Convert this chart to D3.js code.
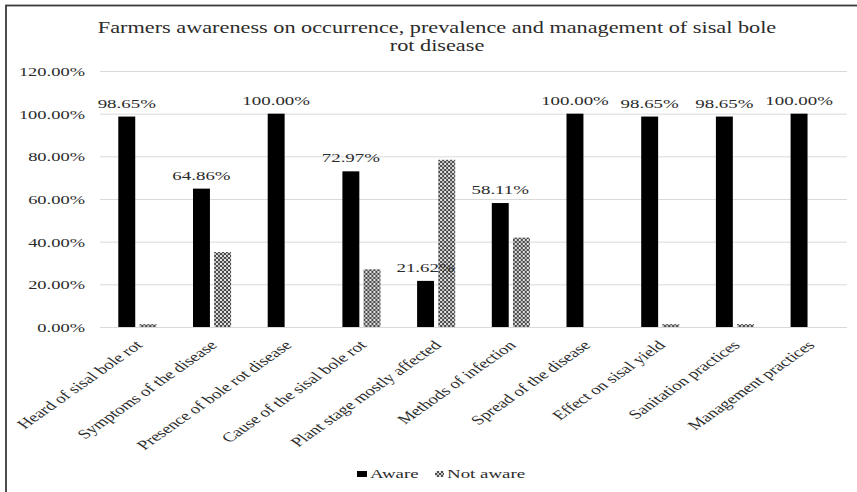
<!DOCTYPE html>
<html>
<head>
<meta charset="utf-8">
<script src="https://cdn.jsdelivr.net/npm/d3@7"></script>
<style>
  body { margin: 0; background: #fff; }
  text { font-family: "Liberation Serif", "Times New Roman", serif; }
</style>
</head>
<body>
<div id="chart"></div>
<script>
"use strict"

// chart data
const categories = [
    "Heard of sisal bole rot",
    "Symptoms of the disease",
    "Presence of bole rot disease",
    "Cause of the sisal bole rot",
    "Plant stage mostly affected",
    "Methods of infection",
    "Spread of the disease",
    "Effect on sisal yield",
    "Sanitation practices",
    "Management practices"
];
const seriesNames = ["Aware", "Not aware"];
const aware = [0.9865, 0.6486, 1.0, 0.7297, 0.2162, 0.5811, 1.0, 0.9865, 0.9865, 1.0];
const notAware = [0.0135, 0.3514, 0, 0.2703, 0.7838, 0.4189, 0, 0.0135, 0.0135, 0];
const yTicks = [0, 0.2, 0.4, 0.6, 0.8, 1.0, 1.2];
const titleLines = [
    "Farmers awareness on occurrence, prevalence and management of sisal bole",
    "rot disease"
];

// the picture is stretched horizontally, so text gets the same stretch
const SX = 1.42;
const figWidth = 857;
const figHeight = 492;
const plotLeft = 100, plotRight = 847, plotTop = 71, plotBottom = 327;
const textColor = "#2b2b2b";

const data = categories.map((c, i) => ({cat: c, values: [aware[i], notAware[i]]}));

let svg = d3.select("#chart").append("svg")
    .attr("width", figWidth)
    .attr("height", figHeight);

// fill pattern for "Not aware"
let defs = svg.append("defs");
let pat = defs.append("pattern")
    .attr("id", "notAwarePat")
    .attr("patternUnits", "userSpaceOnUse")
    .attr("width", 4)
    .attr("height", 4);
pat.append("rect").attr("width", 4).attr("height", 4).attr("fill", "#fff");
pat.append("circle")
    .attr("cx", 2).attr("cy", 2).attr("r", 1.5)
    .attr("fill", "none")
    .attr("stroke", "#2a2a2a")
    .attr("stroke-width", 1);

// outer frame (only left and top edges are inside the picture)
svg.append("rect")
    .attr("x", 6)
    .attr("y", 5.5)
    .attr("width", 900)
    .attr("height", 600)
    .attr("fill", "none")
    .attr("stroke", "#3a3a3a")
    .attr("stroke-width", 1.8);

// Scales
let yScale = d3.scaleLinear()
    .domain([0, 1.2])
    .range([plotBottom, plotTop]);
let xScale = d3.scaleBand()
    .domain(categories)
    .range([plotLeft, plotRight])
    .paddingInner(0.49)
    .paddingOuter(0.245);
let xSub = d3.scaleBand()
    .domain(seriesNames)
    .range([0, xScale.bandwidth()])
    .paddingInner(0.2);
const fills = {"Aware": "#000", "Not aware": "url(#notAwarePat)"};

// Title
svg.selectAll(".title")
    .data(titleLines)
    .enter().append("text")
        .attr("class", "title")
        .attr("text-anchor", "middle")
        .attr("transform", (d, i) => `translate(437, ${32.5 + i * 18}) scale(1.31, 1)`)
        .style("font-size", "17px")
        .attr("fill", textColor)
        .text(d => d);

// Gridlines
let grid = svg.append("g")
    .attr("class", "grid")
    .attr("transform", `translate(${plotLeft}, 0)`)
    .call(d3.axisLeft(yScale)
        .tickValues(yTicks)
        .tickSize(-(plotRight - plotLeft))
        .tickFormat(""));
grid.select(".domain").remove();
grid.selectAll("line").attr("stroke", "#d9d9d9").attr("stroke-width", 1);

// Y axis labels
let yAxis = svg.append("g")
    .attr("class", "y axis")
    .attr("transform", `translate(${plotLeft}, 0)`)
    .call(d3.axisLeft(yScale)
        .tickValues(yTicks)
        .tickSize(0)
        .tickFormat(d3.format(".2%")));
yAxis.select(".domain").remove();
yAxis.selectAll("text")
    .attr("x", -15 / SX)
    .attr("dy", "0.34em")
    .attr("transform", `scale(${SX}, 1)`)
    .attr("fill", textColor)
    .style("font-size", "13px")
    .style("font-family", null);

// Bars
let groups = svg.append("g")
    .attr("class", "bars")
    .selectAll("g")
    .data(data)
    .enter().append("g")
        .attr("transform", d => `translate(${xScale(d.cat)}, 0)`);

groups.selectAll("rect")
    .data(d => d.values.map((v, i) => ({key: seriesNames[i], value: v})))
    .enter().append("rect")
        .attr("x", d => xSub(d.key))
        .attr("y", d => yScale(d.value))
        .attr("width", xSub.bandwidth())
        .attr("height", d => yScale(0) - yScale(d.value))
        .attr("fill", d => fills[d.key]);

// Data labels on the "Aware" series only
groups.append("text")
    .attr("text-anchor", "middle")
    .attr("transform", d => `translate(${xSub("Aware") + xSub.bandwidth() / 2}, ${yScale(d.values[0]) - 9}) scale(${SX}, 1)`)
    .attr("fill", textColor)
    .style("font-size", "13.3px")
    .text(d => d3.format(".2%")(d.values[0]));

// X axis labels
let xAxis = svg.append("g")
    .attr("class", "x axis")
    .attr("transform", `translate(0, ${plotBottom})`)
    .call(d3.axisBottom(xScale).tickSize(0));
xAxis.select(".domain").remove();
xAxis.selectAll("text")
    .attr("x", null)
    .attr("y", null)
    .attr("dy", null)
    .attr("text-anchor", "end")
    .attr("transform", `translate(6, 19) scale(${SX}, 1) rotate(-45)`)
    .attr("fill", textColor)
    .style("font-size", "13.3px")
    .style("font-family", null);

// Legend
let legend = svg.append("g").attr("class", "legend");
legend.append("rect")
    .attr("x", 357).attr("y", 471)
    .attr("width", 10).attr("height", 6)
    .attr("fill", fills["Aware"]);
legend.append("text")
    .attr("transform", `translate(370, 478) scale(${SX}, 1)`)
    .attr("fill", textColor)
    .style("font-size", "13.3px")
    .text("Aware");
legend.append("rect")
    .attr("x", 435).attr("y", 471)
    .attr("width", 9).attr("height", 6)
    .attr("fill", fills["Not aware"]);
legend.append("text")
    .attr("transform", `translate(447, 478) scale(${SX}, 1)`)
    .attr("fill", textColor)
    .style("font-size", "13.3px")
    .text("Not aware");
</script>
</body>
</html>
